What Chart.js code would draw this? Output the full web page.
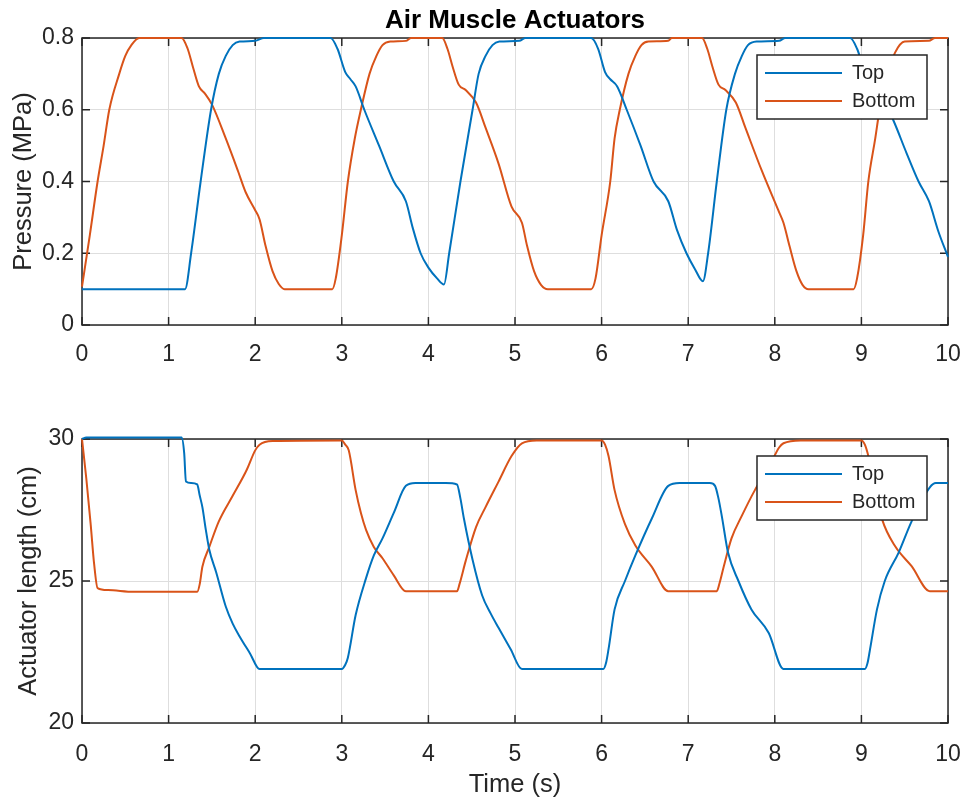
<!DOCTYPE html>
<html>
<head>
<meta charset="utf-8">
<script src="https://cdn.jsdelivr.net/npm/chart.js@4.4.4/dist/chart.umd.min.js"></script>
<style>
  html, body { margin: 0; padding: 0; background: #fff; }
  #wrap { position: relative; width: 968px; height: 806px; }
  .panel { position: absolute; left: 0; width: 968px; }
</style>
</head>
<body>
<div id="wrap">
  <div class="panel" style="top:0;height:390px"><canvas id="pressure" width="968" height="390"></canvas></div>
  <div class="panel" style="top:390px;height:416px"><canvas id="length" width="968" height="416"></canvas></div>
</div>
<script>
// ----- data -----
const seriesNames = ['Top', 'Bottom'];

// pressure (MPa), top muscle
const pTopT = [0, 1.19, 1.26, 1.37, 1.49, 1.58, 1.66, 1.74, 1.82, 2.0, 2.1, 2.87, 2.95, 3.04, 3.1, 3.16, 3.26, 3.43, 3.6, 3.74,
  3.82, 3.91, 4.0, 4.1, 4.18, 4.24, 4.37, 4.51, 4.58, 4.66, 4.74, 4.82, 5.05, 5.12, 5.88, 5.96, 6.04, 6.1, 6.18, 6.29,
  6.45, 6.6, 6.77, 6.87, 6.98, 7.08, 7.17, 7.23, 7.33, 7.44, 7.54, 7.62, 7.69, 7.79, 8.05, 8.12, 8.87, 8.95, 9.04, 9.1,
  9.18, 9.37, 9.52, 9.66, 9.78, 9.89, 10];
const pTopV = [0.1, 0.1, 0.2, 0.4, 0.6, 0.7, 0.75, 0.78, 0.79, 0.792, 0.8, 0.8, 0.77, 0.705, 0.685, 0.665, 0.6, 0.5, 0.4, 0.345,
  0.27, 0.2, 0.16, 0.13, 0.113, 0.2, 0.4, 0.6, 0.7, 0.75, 0.78, 0.79, 0.792, 0.8, 0.8, 0.77, 0.705, 0.685, 0.665, 0.6,
  0.5, 0.4, 0.345, 0.265, 0.2, 0.155, 0.122, 0.2, 0.4, 0.6, 0.7, 0.75, 0.78, 0.79, 0.792, 0.8, 0.8, 0.77, 0.705, 0.685,
  0.665, 0.57, 0.48, 0.4, 0.345, 0.26, 0.19];

// pressure (MPa), bottom muscle
const pBotT = [0, 0.09, 0.18, 0.25, 0.315, 0.43, 0.5, 0.57, 0.66, 1.15, 1.22, 1.28, 1.35, 1.42, 1.5, 1.66, 1.8, 1.89, 2.0, 2.05,
  2.12, 2.2, 2.27, 2.34, 2.89, 2.93, 3.0, 3.07, 3.15, 3.22, 3.32, 3.4, 3.47, 3.56, 3.74, 3.8, 4.16, 4.22, 4.28, 4.35,
  4.43, 4.55, 4.66, 4.81, 4.96, 5.08, 5.14, 5.22, 5.3, 5.38, 5.88, 5.93, 6.0, 6.1, 6.15, 6.21, 6.31, 6.39, 6.46, 6.54,
  6.77, 6.81, 7.16, 7.22, 7.28, 7.35, 7.43, 7.55, 7.66, 7.85, 8.04, 8.1, 8.17, 8.25, 8.32, 8.39, 8.91, 8.95, 9.02, 9.08,
  9.16, 9.21, 9.3, 9.39, 9.5, 9.78, 9.85, 10];
const pBotV = [0.107, 0.25, 0.4, 0.5, 0.6, 0.7, 0.75, 0.78, 0.8, 0.8, 0.77, 0.72, 0.665, 0.645, 0.615, 0.52, 0.43, 0.37, 0.32, 0.295,
  0.22, 0.15, 0.115, 0.1, 0.1, 0.13, 0.25, 0.4, 0.52, 0.6, 0.7, 0.75, 0.78, 0.79, 0.792, 0.8, 0.8, 0.77, 0.72, 0.67,
  0.655, 0.62, 0.55, 0.45, 0.33, 0.285, 0.22, 0.15, 0.112, 0.1, 0.1, 0.13, 0.25, 0.4, 0.52, 0.6, 0.7, 0.75, 0.78, 0.79,
  0.792, 0.8, 0.8, 0.77, 0.72, 0.67, 0.655, 0.62, 0.55, 0.43, 0.32, 0.285, 0.22, 0.15, 0.112, 0.1, 0.1, 0.13, 0.25, 0.4,
  0.52, 0.6, 0.7, 0.76, 0.79, 0.792, 0.8, 0.8];

// actuator length (cm), top muscle
const lTopT = [0, 0.05, 1.15, 1.18, 1.2, 1.26, 1.33, 1.36, 1.39, 1.43, 1.47, 1.55, 1.66, 1.74, 1.82, 1.94, 2.05, 3.0, 3.04, 3.07,
  3.16, 3.28, 3.37, 3.47, 3.6, 3.74, 3.85, 4.2, 4.33, 4.37, 4.41, 4.51, 4.62, 4.72, 4.81, 4.95, 5.08, 6.02, 6.05, 6.08,
  6.15, 6.27, 6.39, 6.58, 6.77, 6.9, 7.25, 7.31, 7.35, 7.39, 7.46, 7.58, 7.73, 7.93, 8.1, 9.04, 9.07, 9.1, 9.18, 9.27,
  9.43, 9.58, 9.79, 9.86, 10];
const lTopV = [30, 30.05, 30.05, 29.5, 28.5, 28.45, 28.4, 28.0, 27.6, 26.8, 26.1, 25.3, 24.1, 23.5, 23.05, 22.45, 21.9, 21.9, 22.05, 22.3,
  23.8, 25.1, 25.9, 26.5, 27.4, 28.35, 28.45, 28.45, 28.4, 27.9, 27.2, 25.75, 24.5, 23.85, 23.35, 22.6, 21.9, 21.9, 22.1, 22.6,
  24.0, 25.0, 25.9, 27.2, 28.35, 28.45, 28.45, 28.35, 27.9, 27.25, 26.0, 25.0, 24.0, 23.17, 21.9, 21.9, 22.1, 22.6, 24.0, 25.0,
  26.0, 27.1, 28.3, 28.45, 28.45];

// actuator length (cm), bottom muscle
const lBotT = [0, 0.05, 0.1, 0.14, 0.18, 0.3, 0.6, 1.33, 1.36, 1.39, 1.47, 1.58, 1.74, 1.9, 2.0, 2.05, 2.2, 3.0, 3.04, 3.08,
  3.16, 3.22, 3.28, 3.37, 3.47, 3.6, 3.74, 4.33, 4.36, 4.43, 4.55, 4.66, 4.81, 4.96, 5.08, 5.25, 6.0, 6.04, 6.08, 6.15,
  6.27, 6.39, 6.58, 6.77, 7.33, 7.36, 7.41, 7.5, 7.62, 7.77, 7.93, 8.05, 8.1, 8.3, 9.0, 9.04, 9.08, 9.16, 9.24, 9.39,
  9.58, 9.79, 10];
const lBotV = [30, 28.6, 27.0, 25.6, 24.75, 24.68, 24.62, 24.62, 24.9, 25.5, 26.2, 27.1, 28.0, 28.9, 29.6, 29.8, 29.93, 29.95, 29.8, 29.6,
  28.2, 27.4, 26.8, 26.2, 25.8, 25.2, 24.64, 24.64, 24.9, 25.7, 26.9, 27.6, 28.5, 29.4, 29.85, 29.95, 29.95, 29.8, 29.4, 28.2,
  27.0, 26.25, 25.5, 24.64, 24.64, 24.9, 25.5, 26.5, 27.3, 28.2, 29.0, 29.7, 29.85, 29.95, 29.95, 29.8, 29.4, 28.2, 27.16, 26.22,
  25.52, 24.64, 24.64];

// ----- styling -----
const FONT = '"Liberation Sans", Arial, Helvetica, sans-serif';
const TEXT = '#262626';
const AXIS = '#262626';
const GRID = '#dedede';
const BLUE = '#0072BD';
const ORANGE = '#D95319';
const TICK_LEN = 8;

Chart.defaults.font.family = FONT;
Chart.defaults.color = TEXT;

const zip = (xs, ys) => xs.map((x, i) => ({ x, y: ys[i] }));

// matlab-ish box: frame + inward ticks underneath the lines, legend box on top
const matlabAxes = {
  id: 'matlabAxes',
  beforeDatasetsDraw(chart) {
    const { ctx, chartArea: a, scales: { x, y } } = chart;
    ctx.save();
    ctx.strokeStyle = AXIS;
    ctx.lineWidth = 1.5;
    ctx.beginPath();
    x.ticks.forEach(t => {
      const px = x.getPixelForValue(t.value);
      ctx.moveTo(px, a.bottom); ctx.lineTo(px, a.bottom - TICK_LEN);
      ctx.moveTo(px, a.top); ctx.lineTo(px, a.top + TICK_LEN);
    });
    y.ticks.forEach(t => {
      const py = y.getPixelForValue(t.value);
      ctx.moveTo(a.left, py); ctx.lineTo(a.left + TICK_LEN, py);
      ctx.moveTo(a.right, py); ctx.lineTo(a.right - TICK_LEN, py);
    });
    ctx.stroke();
    ctx.strokeRect(a.left, a.top, a.right - a.left, a.bottom - a.top);
    ctx.restore();
  },
  afterDraw(chart) {
    const { ctx, chartArea: a } = chart;
    const w = 170, h = 64;
    const left = a.right - 21 - w, top = a.top + 17;
    ctx.save();
    ctx.fillStyle = '#fff';
    ctx.fillRect(left, top, w, h);
    ctx.strokeStyle = AXIS;
    ctx.lineWidth = 1.5;
    ctx.strokeRect(left, top, w, h);
    ctx.font = '20px ' + FONT;
    ctx.textBaseline = 'middle';
    ctx.textAlign = 'left';
    chart.data.datasets.forEach((ds, i) => {
      const cy = top + 18 + i * 28;
      ctx.strokeStyle = ds.borderColor;
      ctx.lineWidth = 2;
      ctx.beginPath(); ctx.moveTo(left + 8, cy); ctx.lineTo(left + 85, cy); ctx.stroke();
      ctx.fillStyle = TEXT;
      ctx.fillText(ds.label, left + 95, cy);
    });
    ctx.restore();
  }
};

function lineSet(label, color, pts) {
  return { label, data: pts, borderColor: color, backgroundColor: color, borderWidth: 2,
           pointRadius: 0, cubicInterpolationMode: 'monotone', clip: 4 };
}

function makeChart(canvas, cfg) {
  return new Chart(canvas, {
    type: 'line',
    data: { datasets: cfg.datasets },
    plugins: [matlabAxes],
    options: {
      responsive: false, animation: false,
      layout: { padding: { top: cfg.padTop, right: 20, left: 0, bottom: 0 } },
      plugins: {
        legend: { display: false },
        tooltip: { enabled: false },
        title: cfg.title ? {
          display: true, text: cfg.title, fullSize: false, color: '#000',
          font: { size: 26, weight: 'bold', family: FONT }, padding: { top: 5, bottom: 1.8 }
        } : { display: false }
      },
      scales: {
        x: {
          type: 'linear', min: 0, max: 10,
          ticks: { stepSize: 1, autoSkip: false, maxRotation: 0, padding: cfg.xTickPad, font: { size: 23 }, color: TEXT },
          grid: { color: GRID, drawTicks: false },
          border: { display: false },
          title: cfg.xTitle ? { display: true, text: cfg.xTitle, font: { size: 25.5 }, color: TEXT, padding: { top: 0, bottom: 6 } } : { display: false },
          afterFit(s) { s.height = cfg.xHeight; s.paddingLeft = 0; s.paddingRight = 0; }
        },
        y: {
          min: cfg.yMin, max: cfg.yMax,
          ticks: { stepSize: cfg.yStep, padding: 8, font: { size: 23 }, color: TEXT },
          grid: { color: GRID, drawTicks: false },
          border: { display: false },
          title: { display: true, text: cfg.yTitle, font: { size: 25.5 }, color: TEXT, padding: { top: cfg.yTitlePad, bottom: 0 } },
          afterFit(s) { s.width = 82; s.paddingTop = 0; s.paddingBottom = 0; }
        }
      }
    }
  });
}

makeChart(document.getElementById('pressure'), {
  title: 'Air Muscle Actuators',
  padTop: 0, xHeight: 65, xTickPad: 16,
  yMin: 0, yMax: 0.8, yStep: 0.2, yTitle: 'Pressure (MPa)', yTitlePad: 9,
  datasets: [lineSet(seriesNames[0], BLUE, zip(pTopT, pTopV)), lineSet(seriesNames[1], ORANGE, zip(pBotT, pBotV))]
});

makeChart(document.getElementById('length'), {
  padTop: 49, xHeight: 83, xTickPad: 18, xTitle: 'Time (s)',
  yMin: 20, yMax: 30, yStep: 5, yTitle: 'Actuator length (cm)', yTitlePad: 14,
  datasets: [lineSet(seriesNames[0], BLUE, zip(lTopT, lTopV)), lineSet(seriesNames[1], ORANGE, zip(lBotT, lBotV))]
});
</script>
</body>
</html>
